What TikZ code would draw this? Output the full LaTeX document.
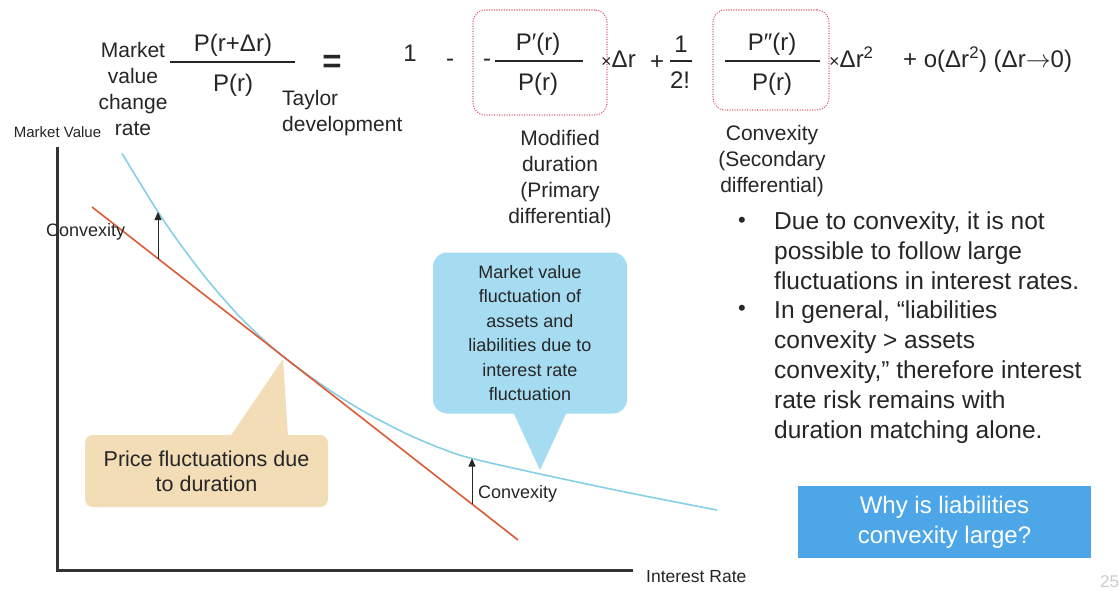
\documentclass[tikz,border=0pt]{standalone}
\usepackage{fontspec}
\setmainfont{Liberation Sans}
\usepackage{tikz}
\usetikzlibrary{arrows.meta, calc, positioning}
\definecolor{txtgray}{HTML}{262626}
\definecolor{curveblue}{HTML}{86CFE6}
\definecolor{lineorange}{HTML}{DD5A35}
\definecolor{dotred}{HTML}{D9606E}
\definecolor{calloutblue}{HTML}{A6DCF2}
\definecolor{callouttan}{HTML}{F3DDB7}
\definecolor{buttonblue}{HTML}{4CA6E8}
\definecolor{axisgray}{HTML}{333333}
\newcommand{\fsz}[2]{\fontsize{#1}{#2}\selectfont}
\newcommand{\tmsign}{{\fsz{18}{18}\raisebox{0.5pt}{×}}}

\begin{document}
\begin{tikzpicture}[x=1pt, y=-1pt, every node/.style={inner sep=0pt, text=txtgray},
  lbl/.style={align=center, font=\fsz{21}{26}},
  frm/.style={anchor=base, font=\fsz{24}{24}},
  fracbar/.style={draw=txtgray, line width=1.1pt},
  dotbox/.style={draw=dotred, line width=1.1pt, dash pattern=on 1.1pt off 1.4pt, rounded corners=12pt},
  axis/.style={draw=axisgray, line width=3pt},
  axislbl/.style={font=\fsz{15}{18}},
  convlbl/.style={anchor=west, font=\fsz{18}{20}},
  convarrow/.style={draw=txtgray, line width=0.8pt, -{Triangle[length=8pt,width=7pt]}},
  tancall/.style={fill=callouttan, rounded corners=8pt, align=center, font=\fsz{21.5}{25}},
  bluecall/.style={fill=calloutblue, rounded corners=14pt, align=center, font=\fsz{18}{24.5}},
  bullettext/.style={anchor=west, align=left, font=\fsz{24.5}{30}},
  whybox/.style={fill=buttonblue, text=white, align=center, font=\fsz{24}{30}, minimum width=293pt, minimum height=72pt}]
\fill[white] (0,0) rectangle (1119,591);
\useasboundingbox (0,0) rectangle (1119,591);

\node[lbl] (mvcr) at (133,89) {Market\\value\\change\\rate};
\node[frm] (num1) at (233,52) {P(r+Δr)};
\node[frm] (den1) at (233,92) {P(r)};
\draw[fracbar] (170,62) -- (295,62);
\node[frm, font=\fsz{33}{33}\bfseries] (eq) at (332,73) {=};
\node[lbl, align=left, anchor=west] (taylor) at (282,113) {Taylor\\development};
\node[frm] (one) at (410,62) {1};
\node[frm] (minus1) at (450,67) {-};
\node[dotbox, minimum width=134pt, minimum height=105pt] (durbox) at (540,62.5) {};
\node[frm] (minus2) at (487,67) {-};
\node[frm] (num2) at (538,51) {P′(r)};
\node[frm] (den2) at (538,91) {P(r)};
\draw[fracbar] (495,61) -- (583,61);
\node[frm, anchor=base west] (dr1) at (601,68) {\tmsign Δr};
\node[frm] (plus1) at (657,70) {+};
\node[frm] (half1) at (681,53) {1};
\node[frm] (half2) at (680,89) {2!};
\draw[fracbar] (670,61) -- (692,61);
\node[dotbox, minimum width=116pt, minimum height=100pt] (convbox) at (771,60) {};
\node[frm] (num3) at (772,51) {P″(r)};
\node[frm] (den3) at (772,91) {P(r)};
\draw[fracbar] (725,61) -- (820,61);
\node[frm, anchor=base west] (dr2) at (829,68) {\tmsign Δr\textsuperscript{2}};
\node[frm, anchor=base west] (rest) at (903,68) {+ o(Δr\textsuperscript{2}) (Δr\(\rightarrow\)0)};
\node[lbl] (moddur) at (560,179) {Modified\\duration\\(Primary\\differential)};
\node[lbl] (convdef) at (772,161) {Convexity\\(Secondary\\differential)};

\node[tancall, minimum width=243pt, minimum height=72pt] (pricebox) at (206.5,471) {Price fluctuations due\\to duration};
\coordinate (tp) at (283,359);
\fill[callouttan] ([xshift=23.5pt,yshift=-2pt]pricebox.north) -- (tp) -- ([xshift=81.5pt,yshift=-2pt]pricebox.north) -- cycle;
\node[bluecall, minimum width=194pt, minimum height=161pt] (mvbox) at (530,333) {Market value\\fluctuation of\\assets and\\liabilities due to\\interest rate\\fluctuation};
\coordinate (tb) at (540,470);
\fill[calloutblue] ([xshift=-17pt,yshift=2pt]mvbox.south) -- (tb) -- ([xshift=37pt,yshift=2pt]mvbox.south) -- cycle;

\node[axislbl] (mv) at (57.5,132) {Market Value};
\draw[axis] (57,147) |- (633,570);
\node[axislbl, font=\fsz{17.5}{20}, anchor=west] (ir) at (646,577) {Interest Rate};
\draw[curveblue, line width=1.6pt] plot[smooth, tension=0.5] coordinates {(122,153.5) (158,212) (183,248) (210,283) (240,317) (265,341) (285,358) (310,376.6) (340,397) (370,415) (407,434) (440,448) (470,458) (540,474) (630,493) (717,510)};
\draw[lineorange, line width=1.6pt] (92,207) -- (518,540);
\coordinate (r1) at (158,258.6);
\coordinate (b1) at (158,212);
\draw[convarrow] (r1) -- (b1);
\node[convlbl] (conv1) at (46,232) {Convexity};
\coordinate (r2) at (472,504);
\coordinate (b2) at (472,458.5);
\draw[convarrow] (r2) -- (b2);
\node[convlbl] (conv2) at (478,494) {Convexity};

\node[font=\fsz{22}{30}] (dot1) at (742,222) {•};
\node[bullettext] (bul1) at (774,251) {Due to convexity, it is not\\possible to follow large\\fluctuations in interest rates.};
\node[font=\fsz{22}{30}] (dot2) at (742,310) {•};
\node[bullettext] (bul2) at (774,372) {In general, “liabilities\\convexity > assets\\convexity,” therefore interest\\rate risk remains with\\duration matching alone.};
\node[whybox] (why) at (944.5,522) {Why is liabilities\\convexity large?};
\node[font=\fsz{17}{17}, text=black!20, anchor=west] (pg) at (1100,582) {25};
\end{tikzpicture}
\end{document}
